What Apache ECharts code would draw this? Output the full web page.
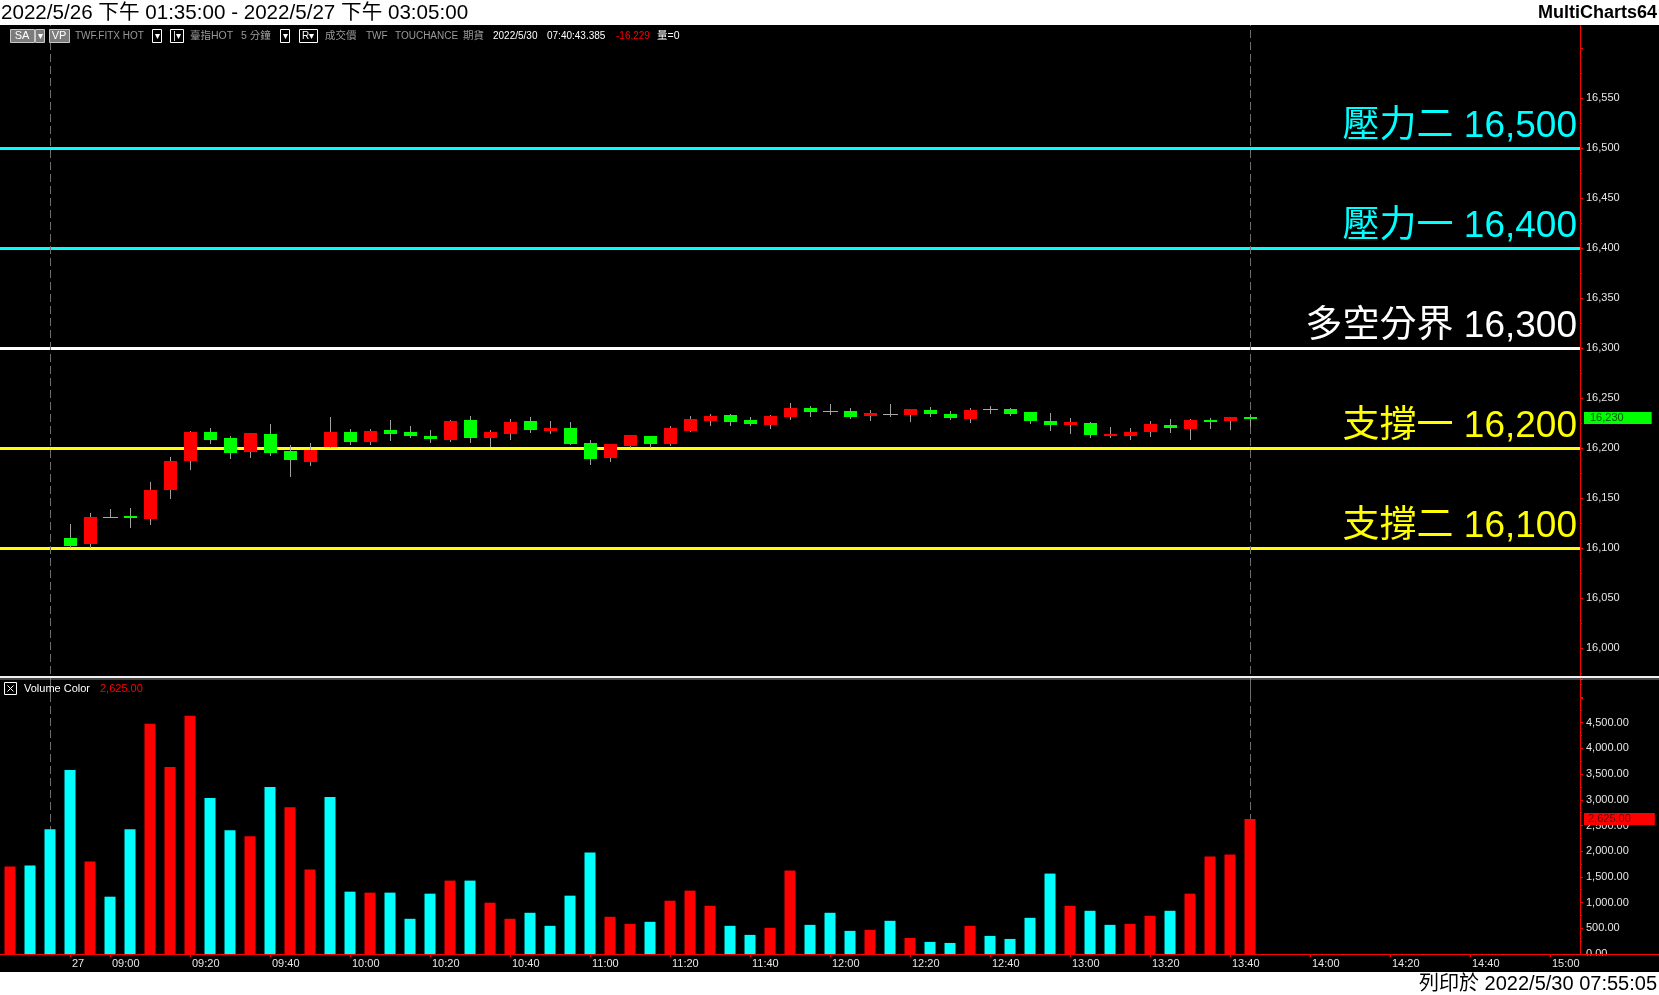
<!DOCTYPE html>
<html>
<head>
<meta charset="utf-8">
<script src="https://cdn.jsdelivr.net/npm/echarts@6/dist/echarts.min.js"></script>
<style>
html,body{margin:0;padding:0;background:#000;}
#c{width:1659px;height:995px;}
</style>
</head>
<body>
<div id="c"></div>
<script>
// ---------------- DATA ----------------
const timeCats = [
  '5/26 13:35','5/26 13:40','5/26 13:45',
  '08:50','08:55','09:00','09:05','09:10','09:15','09:20','09:25','09:30','09:35','09:40','09:45',
  '09:50','09:55','10:00','10:05','10:10','10:15','10:20','10:25','10:30','10:35','10:40','10:45',
  '10:50','10:55','11:00','11:05','11:10','11:15','11:20','11:25','11:30','11:35','11:40','11:45',
  '11:50','11:55','12:00','12:05','12:10','12:15','12:20','12:25','12:30','12:35','12:40','12:45',
  '12:50','12:55','13:00','13:05','13:10','13:15','13:20','13:25','13:30','13:35','13:40','13:45',
  '13:50','13:55','14:00','14:05','14:10','14:15','14:20','14:25','14:30','14:35','14:40','14:45',
  '14:50','14:55','15:00','15:05'
];
const dayStartCat = '08:50';
const dayStartLabel = '27';

// OHLC per bar (first three bars of 5/26 lie below the visible price range)
const candleOpen = [null,null,null,
  16110,16104,16131,16132,16129,16158,16187,16216,16210,16196,16214,16197,16186,16201,16216,16206,16218,16216,
  16212,16208,16228,16210,16214,16227,16217,16220,16205,16190,16202,16212,16204,16217,16227,16233,16228,16223,16231,16240,
  16237,16237,16232,16234,16233,16238,16234,16229,16239,16239,16236,16227,16223,16225,16212,16212,16216,16223,16219,16228,16227,16231];
const candleHigh = [null,null,null,
  16124,16135,16139,16140,16166,16191,16217,16220,16212,16215,16224,16203,16205,16231,16219,16219,16228,16222,
  16218,16228,16232,16218,16229,16231,16227,16226,16208,16204,16213,16212,16222,16232,16234,16234,16231,16233,16245,16242,
  16244,16240,16238,16244,16239,16241,16237,16240,16242,16240,16236,16235,16230,16226,16221,16220,16227,16229,16229,16230,16231,16233];
const candleLow = [null,null,null,
  16101,16101,16131,16121,16124,16150,16179,16205,16190,16191,16193,16172,16183,16201,16204,16204,16208,16211,
  16206,16207,16206,16202,16209,16216,16215,16204,16184,16187,16201,16201,16203,16217,16223,16223,16223,16220,16229,16232,
  16234,16230,16228,16232,16227,16232,16229,16226,16235,16233,16225,16218,16215,16211,16211,16209,16212,16216,16209,16220,16219,16222];
const candleClose = [null,null,null,
  16102,16131,16131,16130,16158,16187,16216,16208,16195,16215,16195,16188,16198,16216,16206,16217,16214,16212,
  16209,16227,16210,16216,16226,16218,16220,16204,16189,16204,16213,16204,16220,16229,16232,16226,16224,16232,16240,16236,
  16237,16231,16235,16234,16239,16234,16230,16238,16239,16234,16227,16223,16226,16213,16214,16216,16224,16220,16228,16226,16231,16229];

const volumes = [
  1702,1722,2426,3581,1800,1115,2426,4481,3639,4637,
  3033,2407,2289,3248,2857,1644,3052,1213,1194,1194,
  685,1174,1428,1428,998,685,802,548,1135,1976,
  724,587,626,1037,1233,939,548,372,509,1624,
  567,802,450,470,646,313,235,215,548,352,
  293,704,1565,939,841,567,587,744,841,1174,
  1898,1937,2625];
// 'R' = red (up volume), 'C' = cyan (down volume)
const volumeSide = [
  'R','C','C','C','R','C','C','R','R','R',
  'C','C','R','C','R','R','C','C','R','C',
  'C','C','R','C','R','R','C','C','C','C',
  'R','R','C','R','R','R','C','C','R','R',
  'C','C','C','R','C','R','C','C','R','C',
  'C','C','C','R','C','C','R','R','C','R',
  'R','R','R'];

const levelValues = [16500, 16400, 16300, 16200, 16100];
const levelNames = ['壓力二', '壓力一', '多空分界', '支撐一', '支撐二'];
const sessionEndCats = ['5/26 13:45', '13:45'];
const lastPrice = 16230;
const lastVolume = 2625;

const priceTicks = { min: 15950, max: 16650, step: 50, showFrom: 16000, showTo: 16550 };
const volTicks = { min: 0, max: 5350, step: 500, showTo: 4500 };

// ---------------- STYLE ----------------
const levelColors = ['#00ffff', '#00ffff', '#ffffff', '#ffff00', '#ffff00'];
const FONT = '"Liberation Sans", "Noto Sans CJK TC", sans-serif';
const axisRed = '#ff0000';
const labelColor = '#e6e6e6';

const fmtInt = v => Math.round(v).toLocaleString('en-US');
const fmt2 = v => v.toLocaleString('en-US', { minimumFractionDigits: 2, maximumFractionDigits: 2 });

const candleData = [];
for (let i = 0; i < candleOpen.length; i++) {
  if (candleOpen[i] == null) continue;
  candleData.push([i, candleOpen[i], candleClose[i], candleLow[i], candleHigh[i]]);
}
const volData = volumes.map((v, i) => ({
  value: v,
  itemStyle: { color: volumeSide[i] === 'R' ? '#ff0000' : '#00ffff' }
}));
const emptyLine = timeCats.map(() => '-');

function renderCandle(params, api) {
  const i = api.value(0);
  const o = api.value(1), c = api.value(2), l = api.value(3), h = api.value(4);
  const pO = api.coord([i, o]), pC = api.coord([i, c]);
  const pL = api.coord([i, l]), pH = api.coord([i, h]);
  const x = Math.round(pO[0]) + 0.5;
  const top = Math.round(Math.min(pO[1], pC[1]));
  const bot = Math.round(Math.max(pO[1], pC[1]));
  const children = [{
    type: 'line',
    shape: { x1: x, y1: Math.round(pH[1]), x2: x, y2: Math.round(pL[1]) + 1 },
    style: { stroke: '#a0a0a0', lineWidth: 1 }
  }];
  if (c === o) {
    children.push({
      type: 'line',
      shape: { x1: x - 7.5, y1: top + 0.5, x2: x + 7.5, y2: top + 0.5 },
      style: { stroke: '#a8a8a8', lineWidth: 1 }
    });
  } else {
    children.push({
      type: 'rect',
      shape: { x: x - 6.5, y: top, width: 13, height: Math.max(bot - top, 2) },
      style: { fill: c > o ? '#ff0000' : '#00ff00' }
    });
  }
  return { type: 'group', children };
}

const showCat = (idx, val) => !val.includes('/') && (val === dayStartCat || /:(00|20|40)$/.test(val));

const levelMarks = levelValues.map((v, i) => ({
  yAxis: v,
  lineStyle: { color: levelColors[i], width: 3, type: 'solid' },
  label: {
    show: true, position: 'insideEndTop', distance: 3,
    formatter: levelNames[i] + ' ' + fmtInt(v),
    color: levelColors[i], fontSize: 37, fontFamily: FONT
  }
}));

const chart = echarts.init(document.getElementById('c'), null, { renderer: 'canvas' });

const txt = (x, y, text, color, size, extra) => ({
  type: 'text', x, y, z: 120,
  style: Object.assign({
    text, fill: color, fontSize: size, fontFamily: FONT, fontWeight: 'normal',
    align: 'left', verticalAlign: 'middle'
  }, extra || {})
});
const box = (x, y, w, h, fill, stroke) => ({
  type: 'rect', z: 110, shape: { x: x + 0.5, y: y + 0.5, width: w, height: h },
  style: { fill, stroke, lineWidth: 1 }
});
const GRAY = '#9a9a9a';

const graphics = [
  // header & footer
  { type: 'rect', z: 100, shape: { x: 0, y: 0, width: 1659, height: 25 }, style: { fill: '#ffffff' } },
  txt(1, 13, '2022/5/26 下午 01:35:00 - 2022/5/27 下午 03:05:00', '#000', 20.6),
  txt(1657, 13, 'MultiCharts64', '#000', 18, { align: 'right', fontWeight: 'bold' }),
  { type: 'rect', z: 100, shape: { x: 0, y: 972, width: 1659, height: 23 }, style: { fill: '#ffffff' } },
  txt(1657, 984, '列印於 2022/5/30 07:55:05', '#000', 20, { align: 'right' }),
  // toolbar row
  box(10, 29, 24, 13, '#7c7c7c', '#c8c8c8'), txt(22, 36, 'SA', '#fff', 11, { align: 'center' }),
  box(35, 29, 9, 13, '#7c7c7c', '#c8c8c8'), txt(40, 36, '▾', '#fff', 10, { align: 'center' }),
  box(49, 29, 20, 13, '#7c7c7c', '#c8c8c8'), txt(59, 36, 'VP', '#fff', 11, { align: 'center' }),
  txt(75, 36, 'TWF.FITX HOT', GRAY, 10),
  box(152, 29, 9, 13, '#000', '#ffffff'), txt(157, 36, '▾', '#fff', 10, { align: 'center' }),
  box(170, 29, 13, 13, '#000', '#ffffff'), txt(177, 36, '|▾', '#fff', 10, { align: 'center' }),
  txt(190, 36, '臺指HOT', GRAY, 10.5),
  txt(241, 36, '5 分鐘', GRAY, 10.5),
  box(280, 29, 9, 13, '#000', '#ffffff'), txt(285, 36, '▾', '#fff', 10, { align: 'center' }),
  box(299, 29, 18, 13, '#000', '#ffffff'), txt(308, 36, 'R▾', '#fff', 10, { align: 'center' }),
  txt(325, 36, '成交價', GRAY, 10.5),
  txt(366, 36, 'TWF', GRAY, 10),
  txt(395, 36, 'TOUCHANCE', GRAY, 10),
  txt(463, 36, '期貨', GRAY, 10.5),
  txt(493, 36, '2022/5/30', '#ffffff', 10),
  txt(547, 36, '07:40:43.385', '#ffffff', 10),
  txt(616, 36, '-16,229', '#ff0000', 10),
  txt(657, 36, '量=0', '#ffffff', 10.5),
  // pane separator
  { type: 'rect', z: 90, shape: { x: 0, y: 676, width: 1659, height: 2 }, style: { fill: '#f0f0f0' } },
  { type: 'rect', z: 90, shape: { x: 0, y: 678.5, width: 1659, height: 1 }, style: { fill: '#8a8a8a' } },
  // volume legend
  box(4, 682, 12, 12, '#000', '#ffffff'),
  { type: 'line', z: 111, shape: { x1: 7.5, y1: 685.5, x2: 13.5, y2: 691.5 }, style: { stroke: '#fff', lineWidth: 1 } },
  { type: 'line', z: 111, shape: { x1: 13.5, y1: 685.5, x2: 7.5, y2: 691.5 }, style: { stroke: '#fff', lineWidth: 1 } },
  txt(24, 689, 'Volume Color', '#ffffff', 11),
  txt(100, 689, fmt2(lastVolume), '#ff0000', 11),
  // clip the bottom of the 0.00 label and extend the baseline
  { type: 'rect', z: 50, shape: { x: 1581, y: 955.5, width: 78, height: 17 }, style: { fill: '#000' } },
  { type: 'line', z: 60, shape: { x1: 1580, y1: 954.5, x2: 1659, y2: 954.5 }, style: { stroke: axisRed, lineWidth: 1 } }
];

const option = {
  backgroundColor: '#000000',
  animation: false,
  textStyle: { fontFamily: FONT },
  grid: [
    { left: 0, top: -2, width: 1580, height: 700, outerBoundsMode: 'none' },
    { left: 0, top: 679, width: 1580, height: 275, outerBoundsMode: 'none' }
  ],
  xAxis: [
    {
      type: 'category', gridIndex: 0, data: timeCats, boundaryGap: true,
      axisLine: { show: false }, axisTick: { show: false }, axisLabel: { show: false }, splitLine: { show: false }
    },
    {
      type: 'category', gridIndex: 1, data: timeCats, boundaryGap: true,
      axisLine: { show: true, lineStyle: { color: axisRed, width: 1 } },
      axisTick: { show: true, alignWithLabel: true, interval: showCat, length: 3, lineStyle: { color: axisRed } },
      axisLabel: {
        show: true, interval: showCat, color: labelColor, fontSize: 11, fontFamily: FONT,
        align: 'left', margin: 4, padding: [0, 0, 0, 2],
        formatter: (val) => val === dayStartCat ? dayStartLabel : val
      },
      splitLine: { show: false }
    }
  ],
  yAxis: [
    {
      type: 'value', gridIndex: 0, position: 'right',
      min: priceTicks.min, max: priceTicks.max, interval: priceTicks.step,
      axisLine: { show: true, lineStyle: { color: axisRed, width: 1 } },
      axisTick: { show: true, length: 3, lineStyle: { color: axisRed } },
      minorTick: { show: true, splitNumber: 2, length: 2, lineStyle: { color: axisRed } },
      splitLine: { show: false },
      axisLabel: {
        color: labelColor, fontSize: 11, fontFamily: FONT, margin: 6,
        formatter: v => (v < priceTicks.showFrom || v > priceTicks.showTo) ? '' : fmtInt(v)
      }
    },
    {
      type: 'value', gridIndex: 1, position: 'right',
      min: volTicks.min, max: volTicks.max, interval: volTicks.step,
      axisLine: { show: true, lineStyle: { color: axisRed, width: 1 } },
      axisTick: { show: true, length: 3, lineStyle: { color: axisRed } },
      minorTick: { show: true, splitNumber: 2, length: 2, lineStyle: { color: axisRed } },
      splitLine: { show: false },
      axisLabel: {
        color: labelColor, fontSize: 11, fontFamily: FONT, margin: 6,
        formatter: v => (v > volTicks.showTo || v % volTicks.step !== 0) ? '' : fmt2(v)
      }
    }
  ],
  series: [
    {
      name: 'levels', type: 'line', xAxisIndex: 0, yAxisIndex: 0, data: emptyLine,
      symbol: 'none', silent: true, z: 2,
      markLine: {
        silent: true, symbol: ['none', 'none'], animation: false, z: 2,
        data: levelMarks.concat(
          sessionEndCats.map(c => ({
            xAxis: c, label: { show: false },
            lineStyle: { color: '#6e6e6e', width: 1, type: [8, 4] }
          })),
          [{
            yAxis: lastPrice,
            lineStyle: { color: 'rgba(0,0,0,0)', width: 0 },
            label: {
              show: true, position: 'end', distance: 4, formatter: fmtInt(lastPrice),
              backgroundColor: '#00ff00', color: '#005000', fontSize: 11, fontFamily: FONT,
              padding: [1, 28, 0, 6]
            }
          }]
        )
      }
    },
    {
      name: 'price', type: 'custom', xAxisIndex: 0, yAxisIndex: 0, z: 3,
      renderItem: renderCandle, data: candleData,
      encode: { x: 0, y: [1, 2, 3, 4] }, clip: false
    },
    {
      name: 'sessions', type: 'line', xAxisIndex: 1, yAxisIndex: 1, data: emptyLine,
      symbol: 'none', silent: true, z: 1,
      markLine: {
        silent: true, symbol: ['none', 'none'], animation: false, z: 1,
        data: sessionEndCats.map(c => ({
          xAxis: c, label: { show: false },
          lineStyle: { color: '#6e6e6e', width: 1, type: [8, 4] }
        }))
      }
    },
    {
      name: 'Volume Color', type: 'bar', xAxisIndex: 1, yAxisIndex: 1, z: 3,
      barWidth: 11, data: volData,
      markLine: {
        silent: true, symbol: ['none', 'none'], animation: false, z: 5,
        data: [{
          yAxis: lastVolume,
          lineStyle: { color: 'rgba(0,0,0,0)', width: 0 },
          label: {
            show: true, position: 'end', distance: 4, formatter: fmt2(lastVolume),
            backgroundColor: '#ff0000', color: '#700000', fontSize: 11, fontFamily: FONT,
            padding: [1, 24, 0, 4]
          }
        }]
      }
    }
  ],
  graphic: { elements: graphics }
};
chart.setOption(option);
</script>
</body>
</html>
